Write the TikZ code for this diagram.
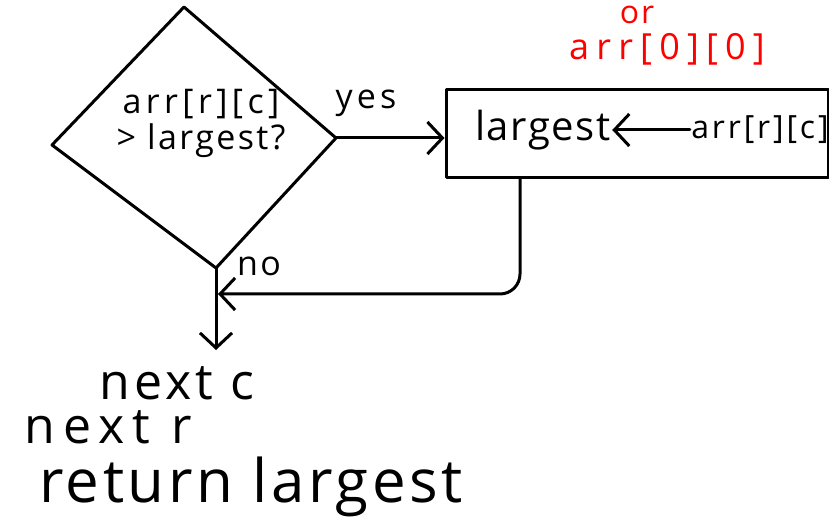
\documentclass[tikz,border=0pt]{standalone}
\usepackage{fontspec}
\setmainfont{Open Sans}
\usetikzlibrary{arrows.meta}
\newcommand{\fs}[2]{\fontsize{#1}{#1}\selectfont\addfontfeature{LetterSpace=#2}}
\begin{document}
\begin{tikzpicture}[x=1pt,y=-1pt,line width=3pt,line cap=round,line join=round,
  arr/.style={-{Straight Barb[length=15pt,width=32pt,line width=3pt]}},
  lbl/.style={inner sep=0pt,anchor=center}]
\useasboundingbox (0,0) rectangle (829,518);
% decision diamond
\coordinate (dtop) at (184,7);
\coordinate (drt) at (336,138);
\coordinate (dbt) at (216,268);
\coordinate (dlf) at (52,145);
\draw (dtop) -- (drt) -- (dbt) -- (dlf) -- cycle;
\node[lbl,font=\fs{34}{0},align=center] (q) at (201,123) {{\fs{34}{13}arr[r][c]}\\[2pt]{\fs{34}{7}> largest?}};
% assignment box
\node[draw,minimum width=382pt,minimum height=88pt,inner sep=0pt] (box) at (637,134) {};
\node[lbl,font=\fs{40}{4}] (lg) at (543,130) {largest};
\node[lbl,font=\fs{32}{9}] (ar) at (760,130) {arr[r][c]};
\draw[arr] (ar.west) -- (lg.east);
% red alternative
\node[lbl,font=\fs{32}{6},text=red] (or) at (637,15) {or};
\node[lbl,font=\fs{36}{20},text=red] (ar0) at (667,49) {arr[0][0]};
% yes
\draw[arr] (drt) -- (drt -| box.west);
\node[lbl,font=\fs{34}{12}] (yes) at (366,103) {yes};
% back from box
\coordinate (nb) at (520,178);
\coordinate (mg) at (218,294);
\draw[arr,rounded corners=20pt] (nb) |- (mg);
\node[lbl,font=\fs{34}{7}] (no) at (259,266) {no};
% down
\coordinate (dn) at (214,350);
\draw[arr] (dbt) -- (dbt |- dn);
% trailing text
\node[lbl,font=\fs{50}{8}] (nc) at (177,383) {next c};
\node[lbl,font=\fs{50}{16}] (nr) at (108,427) {next r};
\node[lbl,font=\fs{60}{6}] (rl) at (251,487) {return largest};
\end{tikzpicture}
\end{document}
